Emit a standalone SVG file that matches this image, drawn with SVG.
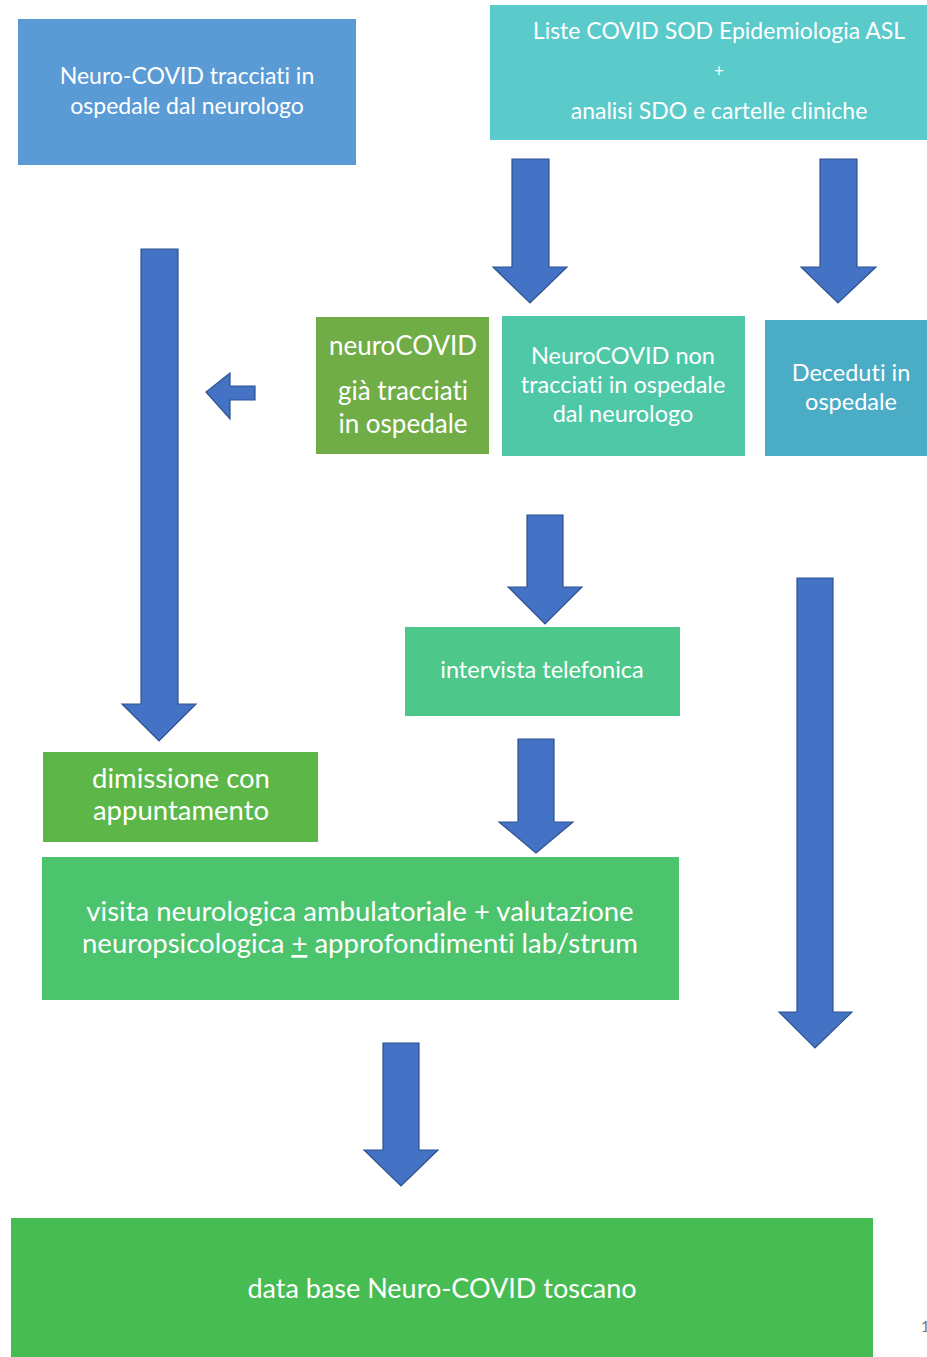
<svg xmlns="http://www.w3.org/2000/svg" width="927" height="1357" viewBox="0 0 927 1357">
<style>
.t{font-family:Lato,"Open Sans","Liberation Sans",sans-serif;fill:#fff;text-anchor:middle;font-variant-ligatures:none}
.a{fill:#4472C4;stroke:#2F528F;stroke-width:1.2}
</style>
<rect width="927" height="1357" fill="#fff"/>
<g id="connectors">
<path class="a" d="M141,249 H178 V704 H196 L159,741 L122,704 H141 Z"/>
<path class="a" d="M512,159 H549 V267 H567 L530,303 L493,267 H512 Z"/>
<path class="a" d="M820,159 H857 V267 H876 L838,303 L801,267 H820 Z"/>
<path class="a" d="M255,386 V400 H230 V419 L206,392 L230,373 V386 Z"/>
<path class="a" d="M527,515 H563 V587 H582 L545,624 L508,587 H527 Z"/>
<path class="a" d="M797,578 H833 V1012 H852 L815,1048 L779,1012 H797 Z"/>
<path class="a" d="M518,739 H554 V822 H573 L536,853 L499,822 H518 Z"/>
<path class="a" d="M383,1043 H419 V1150 H438 L401,1186 L364,1150 H383 Z"/>
</g>
<g id="n1"><rect x="18" y="19" width="338" height="146" fill="#5B9BD5"/>
<text class="t" font-size="23"><tspan x="187" y="84">Neuro-COVID tracciati in</tspan><tspan x="187" y="114">ospedale dal neurologo</tspan></text></g>
<g id="n2"><rect x="490" y="5" width="437" height="135" fill="#5BCACB"/>
<text class="t" font-size="23"><tspan x="719" y="39">Liste COVID SOD Epidemiologia ASL</tspan><tspan x="719" y="77" font-size="17">+</tspan><tspan x="719" y="119">analisi SDO e cartelle cliniche</tspan></text></g>
<g id="n3"><rect x="316" y="317" width="173" height="137" fill="#70AD47"/>
<text class="t" font-size="26"><tspan x="403" y="355">neuroCOVID</tspan><tspan x="403" y="400">già tracciati</tspan><tspan x="403" y="433">in ospedale</tspan></text></g>
<g id="n4"><rect x="502" y="316" width="243" height="140" fill="#4FC8A8"/>
<text class="t" font-size="23.5"><tspan x="623" y="364">NeuroCOVID non</tspan><tspan x="623" y="393">tracciati in ospedale</tspan><tspan x="623" y="422">dal neurologo</tspan></text></g>
<g id="n5"><rect x="765" y="320" width="162" height="136" fill="#4BACC6"/>
<text class="t" font-size="23.5"><tspan x="851" y="381">Deceduti in</tspan><tspan x="851" y="410">ospedale</tspan></text></g>
<g id="n6"><rect x="405" y="627" width="275" height="89" fill="#4DC88A"/>
<text class="t" font-size="23.5" x="542" y="678">intervista telefonica</text></g>
<g id="n7"><rect x="43" y="752" width="275" height="90" fill="#5DB748"/>
<text class="t" font-size="27.5"><tspan x="181" y="788">dimissione con</tspan><tspan x="181" y="820">appuntamento</tspan></text></g>
<g id="n8"><rect x="42" y="857" width="637" height="143" fill="#4CC36D"/>
<text class="t" font-size="27.5"><tspan x="360" y="921">visita neurologica ambulatoriale + valutazione</tspan><tspan x="360" y="953">neuropsicologica <tspan text-decoration="underline">+</tspan> approfondimenti lab/strum</tspan></text></g>
<g id="n9"><rect x="11" y="1218" width="862" height="139" fill="#47BC53"/>
<text class="t" font-size="27" x="442" y="1298">data base Neuro-COVID toscano</text></g>
<text x="921" y="1332" font-family="Lato,'Liberation Sans',sans-serif" font-size="15" fill="#777">1</text>
</svg>
